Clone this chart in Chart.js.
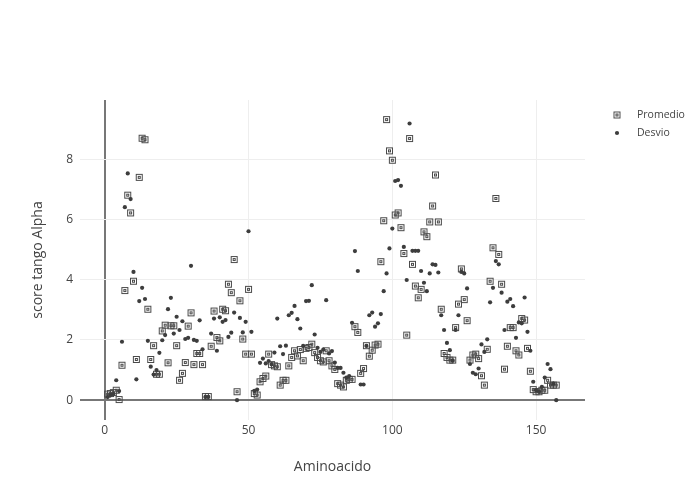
<!DOCTYPE html>
<html>

<head>
    <title>score tango Alpha</title>
    <script src="https://cdn.jsdelivr.net/npm/chart.js"></script>
    <style>
        body {
            margin: 0;
            background: #fff;
        }

        #chartContainer {
            width: 700px;
            height: 500px;
        }
    </style>
</head>

<body>
    <div id="chartContainer">
        <canvas id="myChart" width="700" height="500"></canvas>
    </div>

    <script>
        // valores, uno por aminoacido (1..157)
        const promedio = [
            0.20, 0.22, 0.25, 0.33, 0.02, 1.16, 3.64, 6.81, 6.22, 3.95,
            1.35, 7.40, 8.70, 8.65, 3.02, 1.35, 1.81, 0.86, 0.86, 2.30,
            2.49, 1.24, 2.47, 2.47, 1.81, 0.66, 0.89, 1.25, 2.46, 2.90,
            1.18, 1.55, 1.55, 1.18, 0.12, 0.12, 1.79, 2.96, 2.08, 1.97,
            3.02, 2.97, 3.85, 3.57, 4.67, 0.28, 3.30, 2.03, 1.53, 3.68,
            1.53, 0.22, 0.17, 0.61, 0.72, 0.80, 1.53, 1.18, 1.14, 1.11,
            0.50, 0.66, 0.66, 1.14, 1.42, 1.64, 1.47, 1.68, 1.31, 1.72,
            1.75, 1.86, 1.58, 1.42, 1.31, 1.27, 1.64, 1.31, 1.14, 1.02,
            0.55, 0.50, 0.44, 0.66, 0.69, 0.69, 2.44, 2.25, 0.89, 1.05,
            1.81, 1.46, 1.66, 1.83, 1.86, 4.60, 5.96, 9.32, 8.28, 7.97,
            6.15, 6.22, 5.73, 4.87, 2.16, 8.69, 4.51, 3.79, 3.40, 3.68,
            5.59, 5.43, 5.92, 6.45, 7.48, 5.92, 3.02, 1.55, 1.42, 1.33,
            1.33, 2.41, 3.19, 4.36, 3.34, 2.64, 1.33, 1.50, 1.53, 1.38,
            0.81, 0.50, 1.69, 3.95, 5.06, 6.70, 4.84, 3.85, 1.03, 1.79,
            2.41, 2.41, 1.64, 1.50, 2.71, 2.66, 1.72, 0.96, 0.35, 0.28,
            0.28, 0.33, 0.33, 0.66, 0.50, 0.50, 0.50
        ];
        const desvio = [
            0.10, 0.17, 0.20, 0.66, 0.30, 1.94, 6.41, 7.53, 6.68, 4.26,
            0.69, 3.29, 3.73, 3.36, 1.97, 1.11, 0.85, 1.00, 1.57, 1.99,
            2.16, 3.02, 3.40, 2.21, 2.77, 2.33, 2.62, 2.03, 2.07, 4.46,
            2.00, 1.97, 2.65, 1.69, 0.10, 0.10, 2.21, 2.71, 1.64, 2.75,
            2.60, 2.66, 2.10, 2.24, 2.91, 0.00, 2.73, 2.25, 2.60, 5.61,
            2.27, 0.31, 0.35, 1.24, 1.38, 1.22, 1.30, 1.20, 1.58, 2.71,
            1.79, 1.53, 1.81, 2.82, 2.90, 3.13, 2.69, 2.38, 1.80, 3.29,
            3.30, 3.82, 2.18, 1.74, 1.60, 1.68, 3.32, 1.55, 1.63, 1.25,
            1.07, 1.07, 0.91, 0.75, 0.80, 2.57, 4.95, 4.29, 0.52, 0.52,
            1.80, 2.82, 2.91, 2.44, 2.55, 2.86, 3.62, 4.21, 5.04, 5.70,
            7.28, 7.31, 7.12, 5.09, 3.99, 9.19, 4.96, 4.96, 4.96, 4.29,
            3.90, 3.62, 4.21, 4.51, 4.49, 4.24, 2.82, 2.33, 1.90, 1.66,
            1.31, 2.33, 2.82, 4.26, 4.21, 3.71, 1.20, 0.91, 0.86, 1.05,
            1.85, 1.60, 2.02, 3.25, 3.73, 4.62, 4.51, 3.57, 2.33, 3.27,
            3.36, 3.12, 2.07, 2.58, 2.55, 3.41, 2.27, 1.64, 0.61, 0.33,
            0.28, 0.44, 0.75, 1.20, 1.03, 0.55, 0.00
        ];
        const aminoacido = promedio.map((_, i) => i + 1);
        const xTicks = [0, 50, 100, 150];
        const yTicks = [0, 2, 4, 6, 8];

        const fontFamily = '"Open Sans", verdana, arial, sans-serif';
        const textColor = '#444';

        // marcador tipo "square-open-dot"
        function squareDot(color) {
            const c = document.createElement('canvas');
            c.width = 9;
            c.height = 9;
            const g = c.getContext('2d');
            g.strokeStyle = color;
            g.lineWidth = 1;
            g.strokeRect(1.5, 1.5, 6, 6);
            g.strokeRect(3.5, 3.5, 2, 2);
            return c;
        }
        const squareMarker = squareDot('#4a4a4a');

        // leyenda a la derecha, como en el original
        const sideLegend = {
            id: 'sideLegend',
            afterDraw(chart) {
                const ctx = chart.ctx;
                const x0 = chart.chartArea.right + 32;
                ctx.save();
                ctx.font = '10.5px ' + fontFamily;
                ctx.textBaseline = 'middle';
                chart.data.datasets.forEach((ds, i) => {
                    const y = 115 + i * 18;
                    ctx.fillStyle = ds.backgroundColor;
                    ctx.strokeStyle = ds.borderColor;
                    Chart.helpers.drawPoint(ctx, {
                        pointStyle: ds.pointStyle,
                        radius: ds.pointRadius,
                        borderWidth: 0,
                        rotation: 0
                    }, x0, y);
                    ctx.fillStyle = textColor;
                    ctx.fillText(ds.label, x0 + 20, y);
                });
                ctx.restore();
            }
        };

        const zeroColor = c => (c.tick && c.tick.value === 0) ? '#777' : '#eee';
        const zeroWidth = c => (c.tick && c.tick.value === 0) ? 2 : 1;

        const ctx = document.getElementById('myChart').getContext('2d');
        const myChart = new Chart(ctx, {
            type: 'scatter',
            data: {
                datasets: [{
                    label: 'Promedio',
                    data: aminoacido.map((x, i) => ({ x: x, y: promedio[i] })),
                    pointStyle: squareMarker,
                    pointRadius: 4,
                    backgroundColor: '#4a4a4a',
                    borderColor: '#4a4a4a',
                    order: 1
                }, {
                    label: 'Desvio',
                    data: aminoacido.map((x, i) => ({ x: x, y: desvio[i] })),
                    pointStyle: 'circle',
                    pointRadius: 2.1,
                    borderWidth: 0,
                    backgroundColor: '#3d3d3d',
                    borderColor: '#3d3d3d',
                    order: 0
                }]
            },
            options: {
                responsive: false,
                animation: false,
                devicePixelRatio: 1,
                layout: {
                    padding: { top: 100, right: 115, left: 0, bottom: 0 }
                },
                plugins: {
                    legend: { display: false },
                    tooltip: { enabled: false }
                },
                scales: {
                    x: {
                        type: 'linear',
                        min: -8.6,
                        max: 167,
                        afterBuildTicks: s => { s.ticks = xTicks.map(v => ({ value: v })); },
                        afterFit: s => { s.height = 80; },
                        grid: { color: zeroColor, lineWidth: zeroWidth, drawTicks: false },
                        border: { display: false },
                        ticks: { padding: 3, color: textColor, font: { family: fontFamily, size: 12 } },
                        title: {
                            display: true,
                            text: 'Aminoacido',
                            color: textColor,
                            font: { family: fontFamily, size: 14 },
                            padding: { top: 0, bottom: 25 }
                        }
                    },
                    y: {
                        type: 'linear',
                        min: -0.66,
                        max: 9.97,
                        afterBuildTicks: s => { s.ticks = yTicks.map(v => ({ value: v })); },
                        afterFit: s => { s.width = 80; },
                        grid: { color: zeroColor, lineWidth: zeroWidth, drawTicks: false },
                        border: { display: false },
                        ticks: { padding: 7, color: textColor, font: { family: fontFamily, size: 12 } },
                        title: {
                            display: true,
                            text: 'score tango Alpha',
                            color: textColor,
                            font: { family: fontFamily, size: 14 },
                            padding: { top: 30, bottom: 0 }
                        }
                    }
                }
            },
            plugins: [sideLegend]
        });
    </script>
</body>

</html>
